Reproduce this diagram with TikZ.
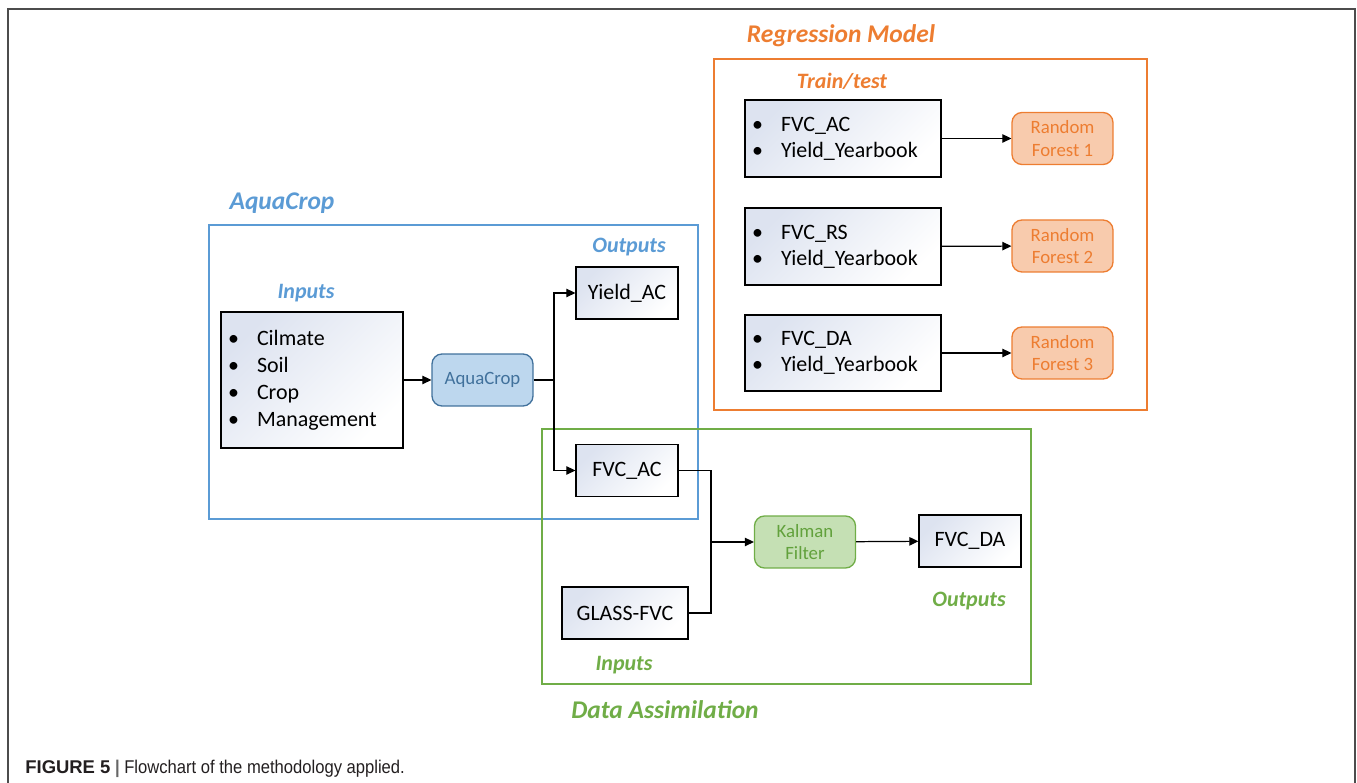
\documentclass[tikz,border=0pt]{standalone}
\usepackage{fontspec}
\setmainfont{Carlito}
\newfontfamily\capfont[FakeStretch=0.9]{Liberation Sans}
\newfontfamily\capbold{Liberation Sans}
\usepackage{xcolor}
\usepackage{tikz}
\usetikzlibrary{arrows.meta, positioning}

\definecolor{acblue}{HTML}{5B9BD5}
\definecolor{acfill}{HTML}{BDD7EE}
\definecolor{acdark}{HTML}{41719C}
\definecolor{rmorange}{HTML}{ED7D31}
\definecolor{rmfill}{HTML}{F8CBAD}
\definecolor{dagreen}{HTML}{70AD47}
\definecolor{dafill}{HTML}{C5E0B4}
\definecolor{dadark}{HTML}{62A13C}
\definecolor{boxtint}{HTML}{DDE3F0}
\definecolor{captext}{HTML}{231F20}

\newcommand{\itm}[1]{\makebox[0.58cm][l]{\textbullet}#1}

\begin{document}
\begin{tikzpicture}[
    x=0.02cm, y=-0.02cm,
    box/.style={draw, line width=0.75pt, minimum width=2.04cm, minimum height=1.04cm, inner sep=0pt,
        top color=boxtint, bottom color=white, shading angle=45, font=\fontsize{12.5}{15}\selectfont},
    list/.style={box, align=left, inner xsep=0.14cm},
    proc/.style={draw, line width=0.75pt, rounded corners=0.2cm, minimum width=2.02cm, minimum height=1.04cm,
        align=center, inner sep=0pt, font=\fontsize{10.7}{12.8}\selectfont},
    group/.style={draw, line width=1.2pt},
    title/.style={font=\fontsize{14.5}{17}\selectfont\bfseries\itshape},
    sub/.style={font=\fontsize{12.5}{15}\selectfont\bfseries\itshape},
    line/.style={line width=0.7pt},
    arrow/.style={line width=0.7pt, -{Triangle[length=0.18cm, width=0.17cm]}}
]
\useasboundingbox (0,0) rectangle (1357,783);
\draw [gray!60!black, line width=0.9pt] (8,783) -- (8,9) -- (1355,9) -- (1355,783);

% group frames
\draw [group, acblue] (209,225) rectangle (698,519);
\draw [group, rmorange] (714,59) rectangle (1147,410);
\draw [group, dagreen] (542,429) rectangle (1031,684);

% AquaCrop
\node (acTitle) [title, text=acblue] at (282,203) {AquaCrop};
\node (acIn) [sub, text=acblue] at (306,293) {Inputs};
\node (acOut) [sub, text=acblue] at (629,247) {Outputs};
\node (inputs) [list, text width=3.36cm, minimum height=2.72cm, font=\fontsize{12.5}{15.3}\selectfont] at (312,380)
    {\itm{Cilmate}\\ \itm{Soil}\\ \itm{Crop}\\ \itm{Management}};
\node (aquacrop) [proc, fill=acfill, draw=acdark, text=acdark] at (482.5,380) {AquaCrop};
\node (yieldac) [box] at (627,293) {Yield\_AC};
\node (fvcac) [box] at (627,470.5) {FVC\_AC};
\coordinate (split) at (554,380);

% Regression model
\node (rmTitle) [title, text=rmorange] at (841,36) {Regression Model};
\node (rmSub) [sub, text=rmorange] at (842,81) {Train/test};
\node (trainA) [list, text width=3.64cm, minimum height=1.54cm, font=\fontsize{12.5}{14.7}\selectfont] at (843,138.5)
    {\itm{FVC\_AC}\\ \itm{Yield\_Yearbook}};
\node (trainB) [list, text width=3.64cm, minimum height=1.54cm, font=\fontsize{12.5}{14.7}\selectfont] at (843,246.5)
    {\itm{FVC\_RS}\\ \itm{Yield\_Yearbook}};
\node (trainC) [list, text width=3.64cm, minimum height=1.52cm, font=\fontsize{12.5}{14.7}\selectfont] at (843,353)
    {\itm{FVC\_DA}\\ \itm{Yield\_Yearbook}};
\node (rf1) [proc, fill=rmfill, draw=rmorange, text=rmorange] at (1062.5,138.5) {Random\\Forest 1};
\node (rf2) [proc, fill=rmfill, draw=rmorange, text=rmorange] at (1062.5,246) {Random\\Forest 2};
\node (rf3) [proc, fill=rmfill, draw=rmorange, text=rmorange] at (1062.5,353) {Random\\Forest 3};

% Data assimilation
\node (daTitle) [title, text=dagreen] at (665,710) {Data Assimilation};
\node (daIn) [sub, text=dagreen] at (624,665) {Inputs};
\node (daOut) [sub, text=dagreen] at (969,601) {Outputs};
\node (glass) [box, minimum width=2.52cm] at (625,613) {GLASS-FVC};
\node (kalman) [proc, fill=dafill, draw=dagreen, text=dadark] at (805,542) {Kalman\\Filter};
\node (fvcda) [box] at (970,541) {FVC\_DA};
\coordinate (merge) at (711,542);

% connectors
\draw [arrow] (inputs) -- (aquacrop);
\draw [line] (aquacrop) -- (split);
\draw [arrow] (split) |- (yieldac);
\draw [arrow] (split) |- (fvcac);
\draw [arrow] (trainA) -- (rf1);
\draw [arrow] (trainB) -- (rf2);
\draw [arrow] (trainC) -- (rf3);
\draw [line] (fvcac.east) -| (merge);
\draw [line] (glass.east) -| (merge);
\draw [arrow] (merge) -- (kalman);
\draw [arrow] (kalman) -- (fvcda);

\node (caption) [anchor=base west, inner sep=0pt, text=captext, font=\capfont\fontsize{10.5}{12}\selectfont] at (25,774)
    {{\capbold\bfseries FIGURE 5} \textcolor{gray!80!black}{\textbf{|}} Flowchart of the methodology applied.};
\end{tikzpicture}
\end{document}
